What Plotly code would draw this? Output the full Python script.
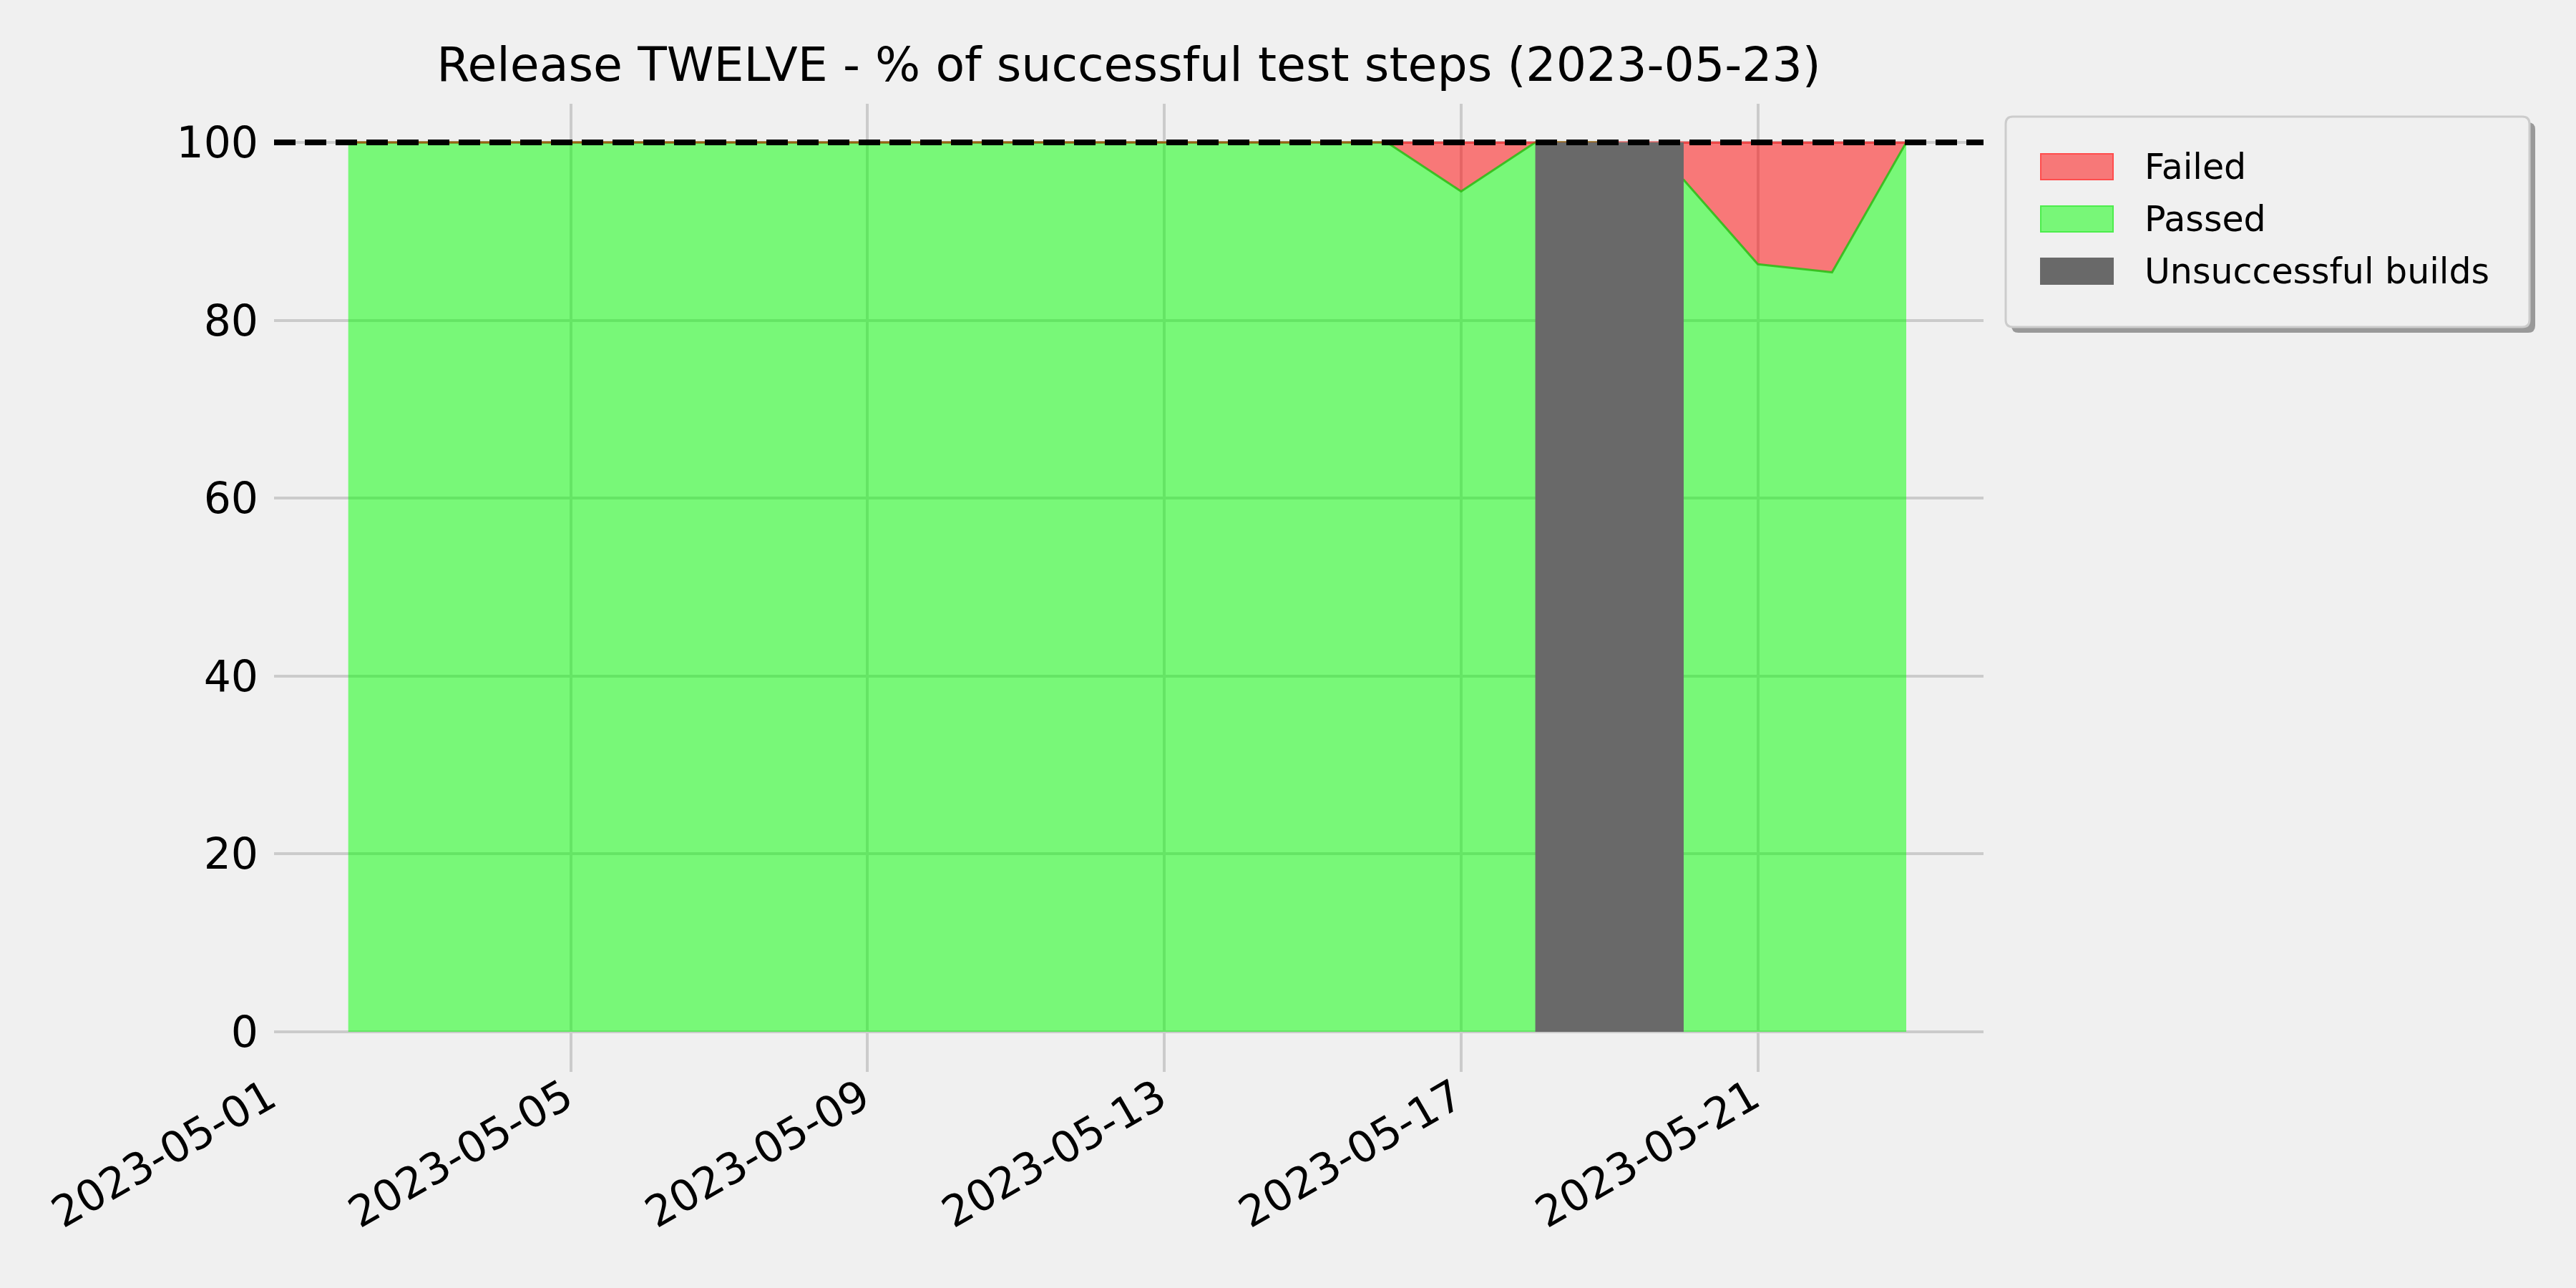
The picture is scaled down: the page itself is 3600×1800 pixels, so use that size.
import plotly.graph_objects as go

# ---------------- data ----------------
dates = ["2023-05-02", "2023-05-03", "2023-05-04", "2023-05-05", "2023-05-06",
         "2023-05-07", "2023-05-08", "2023-05-09", "2023-05-10", "2023-05-11",
         "2023-05-12", "2023-05-13", "2023-05-14", "2023-05-15", "2023-05-16",
         "2023-05-17", "2023-05-18", "2023-05-19", "2023-05-20", "2023-05-21",
         "2023-05-22", "2023-05-23"]
passed_pct = [100, 100, 100, 100, 100, 100, 100, 100, 100, 100, 100, 100, 100, 100, 100,
              94.5, 100, 100, 95.8, 86.3, 85.4, 100]
failed_pct = [0, 0, 0, 0, 0, 0, 0, 0, 0, 0, 0, 0, 0, 0, 0,
              5.5, 0, 0, 4.2, 13.7, 14.6, 0]
unsuccessful_start = ["2023-05-18"]
unsuccessful_end = ["2023-05-20"]
unsuccessful_height = [100]
target_pct = 100
x_tick_dates = ["2023-05-01", "2023-05-05", "2023-05-09", "2023-05-13", "2023-05-17", "2023-05-21"]
y_ticks = [0, 20, 40, 60, 80, 100]
title_text = "Release TWELVE - % of successful test steps (2023-05-23)"
legend_labels = ["Failed", "Passed", "Unsuccessful builds"]

# ---------------- styling ----------------
BG = "#f0f0f0"
FONT = "DejaVu Sans"
W, H = 3600, 1800
L, R, T, B = 383, 2772, 145, 1498  # plot area in px
PW, PH = R - L, B - T


def xp(px):
    return (px - L) / PW


def yp(py):
    return (B - py) / PH


fig = go.Figure()

# passed area
fig.add_trace(go.Scatter(
    x=dates, y=passed_pct, mode="lines", fill="tozeroy",
    fillcolor="rgba(0,255,0,0.5)",
    line=dict(color="rgba(40,190,20,0.85)", width=3),
    showlegend=False, hoverinfo="skip"))

# failed area stacked on passed
stack_top = [p + f for p, f in zip(passed_pct, failed_pct)]
fig.add_trace(go.Scatter(
    x=dates, y=stack_top, mode="lines", fill="tonexty",
    fillcolor="rgba(255,0,0,0.5)",
    line=dict(color="rgba(255,0,0,0.5)", width=3),
    showlegend=False, hoverinfo="skip"))

# unsuccessful builds block
for s, e, h in zip(unsuccessful_start, unsuccessful_end, unsuccessful_height):
    fig.add_trace(go.Scatter(
        x=[s, e], y=[h, h], mode="lines", fill="tozeroy",
        fillcolor="#696969", line=dict(color="#696969", width=0),
        showlegend=False, hoverinfo="skip"))

# target dashed line
fig.add_shape(type="line", xref="paper", x0=0, x1=1, yref="y", y0=target_pct, y1=target_pct,
              line=dict(color="black", width=8, dash="30px,13px"), layer="above")

# ---------------- manual legend (matplotlib style) ----------------
bx0, bx1, by0, by1 = 2803, 3535, 163, 457
rad = 10
sh = 8


def rounded(x0, y0, x1, y1, r):
    X = lambda v: f"{xp(v):.6f}"
    Y = lambda v: f"{yp(v):.6f}"
    return (f"M {X(x0 + r)},{Y(y0)} L {X(x1 - r)},{Y(y0)} Q {X(x1)},{Y(y0)} {X(x1)},{Y(y0 + r)} "
            f"L {X(x1)},{Y(y1 - r)} Q {X(x1)},{Y(y1)} {X(x1 - r)},{Y(y1)} "
            f"L {X(x0 + r)},{Y(y1)} Q {X(x0)},{Y(y1)} {X(x0)},{Y(y1 - r)} "
            f"L {X(x0)},{Y(y0 + r)} Q {X(x0)},{Y(y0)} {X(x0 + r)},{Y(y0)} Z")


fig.add_shape(type="path", xref="paper", yref="paper", path=rounded(bx0 + sh, by0 + sh, bx1 + sh, by1 + sh, rad),
              fillcolor="#999999", line=dict(width=0), layer="above")
fig.add_shape(type="path", xref="paper", yref="paper", path=rounded(bx0, by0, bx1, by1, rad),
              fillcolor=BG, line=dict(color="#cccccc", width=3), layer="above")

legend_fill = ["#f77878", "#78f778", "#696969"]
legend_edge = ["#ff4d4d", "#4ded4d", "#696969"]
row_y = [233, 306, 379]
for lab, fc, ec, cy in zip(legend_labels, legend_fill, legend_edge, row_y):
    fig.add_shape(type="rect", xref="paper", yref="paper",
                  x0=xp(2852), x1=xp(2953), y0=yp(cy + 18), y1=yp(cy - 18),
                  fillcolor=fc, line=dict(color=ec, width=2), layer="above")
    fig.add_annotation(text=lab, xref="paper", yref="paper", x=xp(2995), y=yp(cy),
                       xanchor="left", yanchor="middle", showarrow=False,
                       font=dict(family=FONT, size=49, color="black"))

fig.update_layout(
    width=W, height=H,
    paper_bgcolor=BG, plot_bgcolor=BG,
    margin=dict(l=L, r=W - R, t=T, b=H - B, pad=0),
    font=dict(family=FONT, color="black"),
    title=dict(text=title_text, x=0.5, xref="paper", xanchor="center",
               y=1 - 90 / H, yref="container", yanchor="middle",
               font=dict(family=FONT, size=66.5, color="black")),
    showlegend=False,
)

fig.update_xaxes(
    type="date", range=["2023-05-01 00:00", "2023-05-24 01:00"],
    tickvals=x_tick_dates, ticktext=x_tick_dates, tickangle=-30,
    tickfont=dict(family=FONT, size=60, color="black"),
    showgrid=True, gridcolor="#cbcbcb", gridwidth=4,
    ticks="", ticklabelstandoff=-12, ticklabelshift=-8,
    showline=False, zeroline=False, automargin=False,
)
fig.update_yaxes(
    range=[-4.5, 104.35], tickvals=y_ticks,
    tickfont=dict(family=FONT, size=60, color="black"),
    showgrid=True, gridcolor="#cbcbcb", gridwidth=4,
    ticks="outside", ticklen=9, tickcolor="rgba(0,0,0,0)",
    showline=False, zeroline=False, automargin=False,
)

fig.write_html("out.html", config={"displayModeBar": False},
               post_script="document.body.style.margin='0';document.body.style.overflow='hidden';")
